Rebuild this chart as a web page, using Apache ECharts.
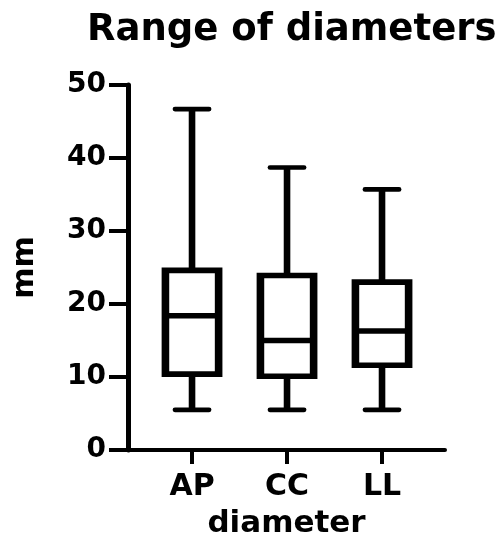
<!DOCTYPE html>
<html>
<head>
<meta charset="utf-8">
<script src="https://cdn.jsdelivr.net/npm/echarts@6/dist/echarts.min.js"></script>
<style>
    html, body { margin: 0; padding: 0; background: #fff; }
    #chart { width: 496px; height: 540px; }
</style>
</head>
<body>
<div id="chart"></div>
<script>
// 数据
var categories = ['AP', 'CC', 'LL'];
var whiskerLow = [5.5, 5.5, 5.5];
var q1 = [10.4, 10.1, 11.6];
var median = [18.4, 15.0, 16.3];
var q3 = [24.6, 23.9, 23.0];
var whiskerHigh = [46.7, 38.7, 35.7];
var yTicks = [0, 10, 20, 30, 40, 50];

var boxData = [];
for (let i = 0; i < categories.length; i++) {
    boxData.push([i, whiskerLow[i], q1[i], median[i], q3[i], whiskerHigh[i]]);
}

// 画箱线
function renderBox(params, api) {
    var x = api.value(0);
    var lo = api.coord([x, api.value(1)]);
    var b = api.coord([x, api.value(2)]);
    var m = api.coord([x, api.value(3)]);
    var t = api.coord([x, api.value(4)]);
    var hi = api.coord([x, api.value(5)]);
    var cx = lo[0];
    var boxW = api.size([0.56, 0])[0];
    var capW = api.size([0.36, 0])[0];
    var vw = 7.6; // 竖线粗细
    var hw = 5.6; // 横线粗细
    var ww = 6.6; // 须线粗细
    var black = { fill: '#000' };
    return {
        type: 'group',
        children: [
            { type: 'rect', shape: { x: cx - ww / 2, y: hi[1], width: ww, height: t[1] - hi[1] }, style: black },
            { type: 'rect', shape: { x: cx - ww / 2, y: b[1], width: ww, height: lo[1] - b[1] }, style: black },
            { type: 'line', shape: { x1: cx - capW / 2, y1: hi[1], x2: cx + capW / 2, y2: hi[1] },
              style: { stroke: '#000', lineWidth: 4.6, lineCap: 'round' } },
            { type: 'line', shape: { x1: cx - capW / 2, y1: lo[1], x2: cx + capW / 2, y2: lo[1] },
              style: { stroke: '#000', lineWidth: 4.6, lineCap: 'round' } },
            { type: 'rect',
              shape: { x: cx - boxW / 2 - vw / 2, y: t[1] - hw / 2, width: boxW + vw, height: b[1] - t[1] + hw },
              style: black },
            { type: 'rect',
              shape: { x: cx - boxW / 2 + vw / 2, y: t[1] + hw / 2, width: boxW - vw, height: b[1] - t[1] - hw },
              style: { fill: '#fff' } },
            { type: 'rect',
              shape: { x: cx - boxW / 2, y: m[1] - hw / 2, width: boxW, height: hw },
              style: black }
        ]
    };
}

var chart = echarts.init(document.getElementById('chart'));
chart.setOption({
    backgroundColor: '#fff',
    animation: false,
    title: {
        text: 'Range of diameters',
        left: 82,
        top: 7,
        textStyle: {
            fontFamily: 'DejaVu Sans',
            fontWeight: 'bold',
            fontSize: 37,
            color: '#000'
        }
    },
    grid: {
        left: 128,
        right: 51,
        top: 85,
        bottom: 90,
        containLabel: false,
        outerBoundsMode: 'none'
    },
    xAxis: {
        type: 'value',
        min: -0.674,
        max: 2.663,
        name: 'diameter',
        nameLocation: 'middle',
        nameGap: 58,
        nameTextStyle: {
            fontFamily: 'DejaVu Sans',
            fontWeight: 'bold',
            fontSize: 31,
            color: '#000'
        },
        splitLine: { show: false },
        axisLine: { onZero: false, lineStyle: { color: '#000', width: 4 } },
        axisTick: {
            customValues: [0, 1, 2],
            length: 14,
            lineStyle: { color: '#000', width: 4 }
        },
        axisLabel: {
            customValues: [0, 1, 2],
            formatter: function (v) {
                return categories[Math.round(v)];
            },
            margin: 22,
            fontFamily: 'DejaVu Sans',
            fontWeight: 'bold',
            fontSize: 30,
            color: '#000'
        }
    },
    yAxis: {
        type: 'value',
        min: yTicks[0],
        max: yTicks[yTicks.length - 1],
        interval: 10,
        name: 'mm',
        nameLocation: 'middle',
        nameGap: 88,
        nameRotate: 90,
        nameTextStyle: {
            fontFamily: 'DejaVu Sans',
            fontWeight: 'bold',
            fontSize: 30,
            color: '#000'
        },
        splitLine: { show: false },
        axisLine: { show: true, onZero: false, lineStyle: { color: '#000', width: 5 } },
        axisTick: {
            show: true,
            length: 19,
            lineStyle: { color: '#000', width: 4 }
        },
        axisLabel: {
            margin: 22,
            fontFamily: 'DejaVu Sans',
            fontWeight: 'bold',
            fontSize: 28,
            color: '#000'
        }
    },
    series: [
        {
            type: 'custom',
            renderItem: renderBox,
            encode: { x: 0, y: [1, 2, 3, 4, 5] },
            data: boxData,
            clip: false
        }
    ]
});
</script>
</body>
</html>
